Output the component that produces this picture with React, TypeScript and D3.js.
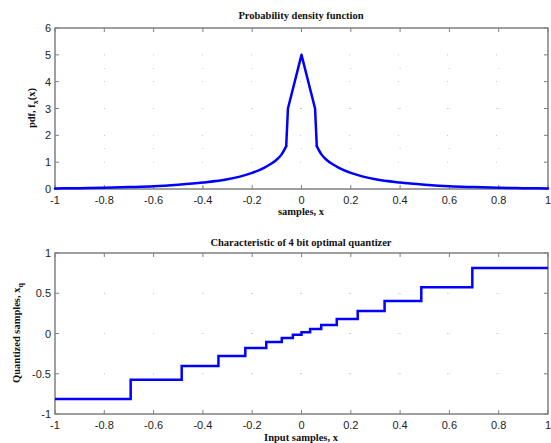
import React, { useEffect, useRef } from "react";
import * as d3 from "d3";

// pdf samples (symmetric around 0)
const pdfX = [0, 0.055, 0.062, 0.08, 0.1, 0.125, 0.15, 0.2, 0.25, 0.3, 0.4, 0.5, 0.6, 0.7, 0.8, 0.9, 1.0];
const pdfY = [5, 3, 1.6, 1.3, 1.1, 0.93, 0.8, 0.6, 0.46, 0.36, 0.24, 0.16, 0.1, 0.07, 0.045, 0.03, 0.02];

// quantizer decision thresholds and output levels (positive half)
const thresholds = [0, 0.035, 0.08, 0.143, 0.228, 0.337, 0.486, 0.693];
const levels = [0.015, 0.055, 0.105, 0.18, 0.28, 0.405, 0.575, 0.815];

const xTicks = [-1, -0.8, -0.6, -0.4, -0.2, 0, 0.2, 0.4, 0.6, 0.8, 1];
const pdfYTicks = [0, 1, 2, 3, 4, 5, 6];
const qYTicks = [-1, -0.5, 0, 0.5, 1];

function App() {
    const ref = useRef<SVGSVGElement | null>(null);

    useEffect(() => {
        const svg = d3.select(ref.current);
        svg.selectAll("*").remove();

        const left = 55;
        const right = 548;
        const axisColor = "#808080";
        const textColor = "#222";

        const drawPanel = (top: number, bottom: number, yDomain: number[], yTicks: number[]) => {
            const x = d3.scaleLinear().domain([-1, 1]).range([left, right]);
            const y = d3.scaleLinear().domain(yDomain).range([bottom, top]);
            const g = svg.append("g");

            // dotted grid
            g.selectAll(".gx")
                .data(xTicks.slice(1, -1))
                .join("line")
                .attr("x1", (d) => x(d))
                .attr("x2", (d) => x(d))
                .attr("y1", top)
                .attr("y2", bottom)
                .attr("stroke", "#c8c8c8")
                .attr("stroke-width", 1)
                .attr("stroke-dasharray", "1,39");
            g.selectAll(".gy")
                .data(yTicks.slice(1, -1))
                .join("line")
                .attr("x1", left)
                .attr("x2", right)
                .attr("y1", (d) => y(d))
                .attr("y2", (d) => y(d))
                .attr("stroke", "#c8c8c8")
                .attr("stroke-width", 1)
                .attr("stroke-dasharray", "1,48");

            // ticks inside the box
            xTicks.forEach((t) => {
                g.append("line").attr("x1", x(t)).attr("x2", x(t)).attr("y1", bottom).attr("y2", bottom - 4).attr("stroke", axisColor);
                g.append("line").attr("x1", x(t)).attr("x2", x(t)).attr("y1", top).attr("y2", top + 4).attr("stroke", axisColor);
            });
            yTicks.forEach((t) => {
                g.append("line").attr("x1", left).attr("x2", left + 4).attr("y1", y(t)).attr("y2", y(t)).attr("stroke", axisColor);
                g.append("line").attr("x1", right).attr("x2", right - 4).attr("y1", y(t)).attr("y2", y(t)).attr("stroke", axisColor);
            });

            g.append("rect")
                .attr("x", left)
                .attr("y", top)
                .attr("width", right - left)
                .attr("height", bottom - top)
                .attr("fill", "none")
                .attr("stroke", axisColor)
                .attr("stroke-width", 1.5);

            // tick labels (plain hyphen minus, like matlab)
            g.selectAll(".xl")
                .data(xTicks)
                .join("text")
                .attr("x", (d) => x(d))
                .attr("y", bottom + 15)
                .attr("text-anchor", "middle")
                .attr("font-family", "Liberation Sans, Arial, sans-serif")
                .attr("font-size", 11)
                .attr("fill", textColor)
                .text((d) => String(d));
            g.selectAll(".yl")
                .data(yTicks)
                .join("text")
                .attr("x", left - 4)
                .attr("y", (d) => y(d) + 4)
                .attr("text-anchor", "end")
                .attr("font-family", "Liberation Sans, Arial, sans-serif")
                .attr("font-size", 11)
                .attr("fill", textColor)
                .text((d) => String(d));

            return { x, y, g };
        };

        // ---- top: pdf ----
        const p1 = drawPanel(28, 189, [0, 6], pdfYTicks);
        const rightTail: [number, number][] = pdfX.slice(2).map((v, i) => [v, pdfY[i + 2]]);
        const leftTail: [number, number][] = rightTail.map((d) => [-d[0], d[1]] as [number, number]).reverse();
        const center: [number, number][] = [
            [-pdfX[2], pdfY[2]],
            [-pdfX[1], pdfY[1]],
            [pdfX[0], pdfY[0]],
            [pdfX[1], pdfY[1]],
            [pdfX[2], pdfY[2]],
        ];
        const smooth = d3
            .line<[number, number]>()
            .x((d) => p1.x(d[0]))
            .y((d) => p1.y(d[1]))
            .curve(d3.curveMonotoneX);
        const straight = d3
            .line<[number, number]>()
            .x((d) => p1.x(d[0]))
            .y((d) => p1.y(d[1]));
        [smooth(leftTail), straight(center), smooth(rightTail)].forEach((dStr) => {
            p1.g.append("path")
                .attr("d", dStr)
                .attr("fill", "none")
                .attr("stroke", "#0000ff")
                .attr("stroke-width", 2.5)
                .attr("stroke-linejoin", "round")
                .attr("stroke-linecap", "round");
        });

        // ---- bottom: quantizer ----
        const p2 = drawPanel(253, 414, [-1, 1], qYTicks);
        const qPts: [number, number][] = [];
        qPts.push([-1, -levels[levels.length - 1]]);
        for (let i = thresholds.length - 1; i > 0; i--) qPts.push([-thresholds[i], -levels[i - 1]]);
        for (let i = 0; i < thresholds.length; i++) qPts.push([thresholds[i], levels[i]]);
        qPts.push([1, levels[levels.length - 1]]);
        const qLine = d3
            .line<[number, number]>()
            .x((d) => p2.x(d[0]))
            .y((d) => p2.y(d[1]))
            .curve(d3.curveStepAfter);
        p2.g.append("path")
            .attr("d", qLine(qPts))
            .attr("fill", "none")
            .attr("stroke", "#0000ff")
            .attr("stroke-width", 2.5);

        // titles and axis labels
        const serif = "Liberation Serif, Times New Roman, serif";
        const addText = (txt: string, x: number, y: number, rotate = false) => {
            const t = svg.append("text")
                .attr("text-anchor", "middle")
                .attr("font-family", serif)
                .attr("font-weight", "bold")
                .attr("font-size", 10.5)
                .attr("fill", "#111")
                .attr("x", rotate ? 0 : x)
                .attr("y", rotate ? 0 : y);
            if (rotate) t.attr("transform", `translate(${x},${y}) rotate(-90)`);
            return t.text(txt);
        };
        addText("Probability density function", 301, 19);
        addText("samples, x", 301, 215);
        addText("Characteristic of 4 bit optimal quantizer", 301, 246);
        addText("Input samples, x", 301, 441);

        const yl1 = addText("", 35, 108, true);
        yl1.append("tspan").text("pdf, f");
        yl1.append("tspan").attr("font-size", 8).attr("dy", 3).text("x");
        yl1.append("tspan").attr("dy", -3).text("(x)");

        const yl2 = addText("", 20, 333, true);
        yl2.append("tspan").text("Quantized samples, x");
        yl2.append("tspan").attr("font-size", 8).attr("dy", 3).text("q");
    }, []);

    return (
        <svg
            ref={ref}
            width={551}
            height={443}
            style={{ position: "absolute", left: 0, top: 0, background: "#fff" }}
        ></svg>
    );
}

export default App;
